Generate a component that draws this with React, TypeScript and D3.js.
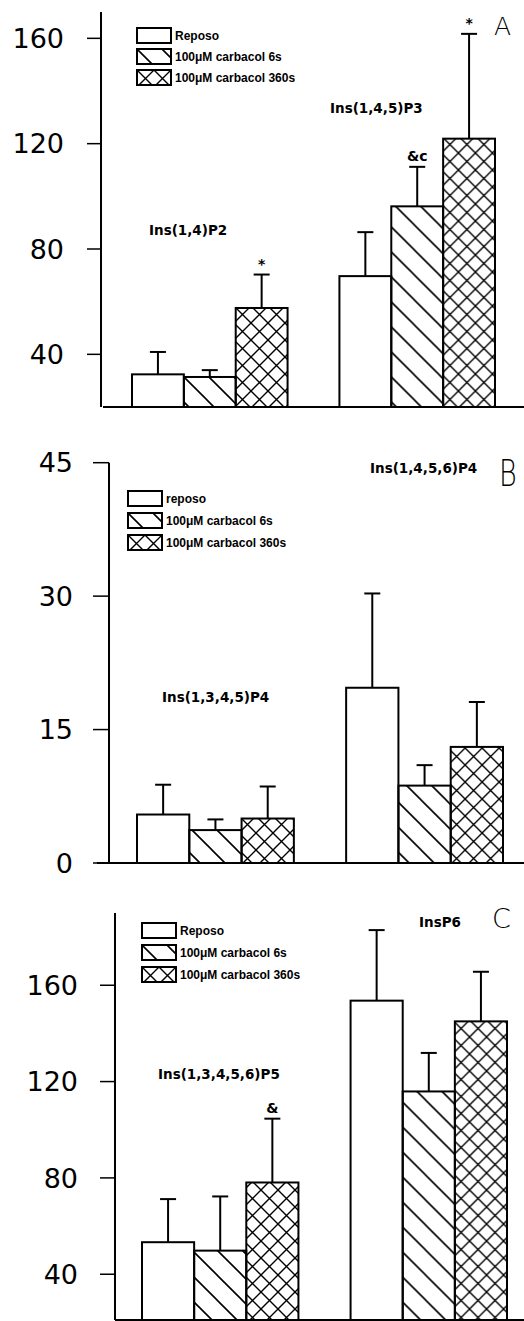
import React from 'react';
import * as d3 from 'd3';

// ---------- DATA ----------
const SERIES_A = ['Reposo', '100μM carbacol 6s', '100μM carbacol 360s'];
const SERIES_B = ['reposo', '100μM carbacol 6s', '100μM carbacol 360s'];
const SERIES_C = ['Reposo', '100μM carbacol 6s', '100μM carbacol 360s'];

const GROUPS_A = ['Ins(1,4)P2', 'Ins(1,4,5)P3'];
const VALUES_A = [[32.4, 31.4, 57.6], [69.7, 96.2, 121.9]];
const ERRORS_A = [[8.5, 2.6, 12.7], [16.7, 15.0, 39.8]];
const MARKS_A = [['', '', '*'], ['', '&c', '*']];
const TICKS_A = [40, 80, 120, 160];

const GROUPS_B = ['Ins(1,3,4,5)P4', 'Ins(1,4,5,6)P4'];
const VALUES_B = [[5.45, 3.7, 5.0], [19.7, 8.7, 13.05]];
const ERRORS_B = [[3.35, 1.2, 3.6], [10.6, 2.3, 5.05]];
const MARKS_B = [['', '', ''], ['', '', '']];
const TICKS_B = [0, 15, 30, 45];

const GROUPS_C = ['Ins(1,3,4,5,6)P5', 'InsP6'];
const VALUES_C = [[53.3, 49.8, 78.1], [153.6, 115.9, 145.0]];
const ERRORS_C = [[17.9, 22.5, 26.5], [29.3, 16.0, 20.6]];
const MARKS_C = [['', '', '&'], ['', '', '']];
const TICKS_C = [40, 80, 120, 160];

const FILLS = ['#fff', 'url(#hatch)', 'url(#cross)'];

// ---------- LAYOUT ----------
const PANELS = [
  {
    letter: 'A', series: SERIES_A, groups: GROUPS_A, values: VALUES_A, errors: ERRORS_A, marks: MARKS_A, ticks: TICKS_A,
    yDomain: [20, 170], yRange: [407, 12], axisX: 101, axisTop: 12, baseY: 407, baseX0: 103,
    xRange: [132, 495], tickLen: 14, labelRight: 64,
    legend: { x: 137, y: 28, dy: 21 },
    groupLabels: [{ x: 149, y: 235 }, { x: 330, y: 113 }],
    letterPos: { x: 494, y: 35, size: 25, sy: 1 },
  },
  {
    letter: 'B', series: SERIES_B, groups: GROUPS_B, values: VALUES_B, errors: ERRORS_B, marks: MARKS_B, ticks: TICKS_B,
    yDomain: [0, 45], yRange: [863, 462.7], axisX: 109, axisTop: 462.7, baseY: 863, baseX0: 97,
    xRange: [137, 503], tickLen: 16, labelRight: 73,
    legend: { x: 128, y: 491, dy: 22 },
    groupLabels: [{ x: 162, y: 702 }, { x: 370, y: 473 }],
    letterPos: { x: 499, y: 486, size: 27, sy: 1.38 },
  },
  {
    letter: 'C', series: SERIES_C, groups: GROUPS_C, values: VALUES_C, errors: ERRORS_C, marks: MARKS_C, ticks: TICKS_C,
    yDomain: [20, 190], yRange: [1322.4, 913], axisX: 115, axisTop: 913, baseY: 1320, baseX0: 115,
    xRange: [142, 507], tickLen: 15, labelRight: 78,
    legend: { x: 142, y: 923, dy: 22 },
    groupLabels: [{ x: 158, y: 1079 }, { x: 419, y: 927 }],
    letterPos: { x: 492, y: 928, size: 27, sy: 1 },
  },
];

const TICK_FONT = '"DejaVu Sans", sans-serif';
const LEGEND_FONT = '"Liberation Sans", Arial, sans-serif';
const LABEL_FONT = '"DejaVu Sans", sans-serif';

function Panel({ p }: { p: any }) {
  const y = d3.scaleLinear().domain(p.yDomain).range(p.yRange);
  const xg = d3.scaleBand<string>().domain(p.groups).range(p.xRange).paddingInner(0.25).paddingOuter(0);
  const xs = d3.scaleBand<number>().domain([0, 1, 2]).range([0, xg.bandwidth()]).padding(0);
  const capW = 16;
  return (
    <g>
      {/* bars */}
      {p.groups.map((g: string, gi: number) => (
        <g key={g} transform={`translate(${xg(g)},0)`}>
          {p.values[gi].map((v: number, si: number) => {
            const x0 = xs(si)!;
            const w = xs.bandwidth();
            const top = y(v);
            const bottom = Math.min(y(p.yDomain[0]), 1330);
            const errTop = y(v + p.errors[gi][si]);
            const cx = x0 + w / 2;
            return (
              <g key={si}>
                <line x1={cx} x2={cx} y1={top} y2={errTop} stroke="#000" strokeWidth={2} />
                <line x1={cx - capW / 2} x2={cx + capW / 2} y1={errTop} y2={errTop} stroke="#000" strokeWidth={2} />
                <rect x={x0} y={top} width={w} height={bottom - top} fill={FILLS[si]} stroke="#000" strokeWidth={2} />
                {p.marks[gi][si] ? (
                  <text x={cx} y={errTop - 6} textAnchor="middle" fontFamily={LABEL_FONT} fontWeight="bold" fontSize={14}>
                    {p.marks[gi][si]}
                  </text>
                ) : null}
              </g>
            );
          })}
        </g>
      ))}
      {/* axes */}
      <line x1={p.axisX} x2={p.axisX} y1={p.axisTop} y2={p.baseY} stroke="#000" strokeWidth={2} />
      <line x1={p.baseX0} x2={524} y1={p.baseY} y2={p.baseY} stroke="#000" strokeWidth={2} />
      {p.ticks.map((t: number) => (
        <g key={t}>
          <line x1={p.axisX - p.tickLen} x2={p.axisX} y1={y(t)} y2={y(t)} stroke="#000" strokeWidth={1.5} />
          <text x={p.labelRight} y={y(t)} dy="0.36em" textAnchor="end" fontFamily={TICK_FONT} fontSize={27} fill="#000">
            {t}
          </text>
        </g>
      ))}
      {/* legend */}
      {p.series.map((s: string, si: number) => (
        <g key={s} transform={`translate(${p.legend.x},${p.legend.y + si * p.legend.dy})`}>
          <rect x={0} y={0} width={34} height={15} fill={FILLS[si]} stroke="#000" strokeWidth={2} />
          <text x={38} y={12} fontFamily={LEGEND_FONT} fontWeight="bold" fontSize={12} fill="#000">
            {s}
          </text>
        </g>
      ))}
      {/* group labels */}
      {p.groups.map((g: string, gi: number) => (
        <text key={g} x={p.groupLabels[gi].x} y={p.groupLabels[gi].y} fontFamily={LABEL_FONT} fontWeight="bold" fontSize={13.5} fill="#000">
          {g}
        </text>
      ))}
      {/* panel letter */}
      <text
        transform={`translate(${p.letterPos.x},${p.letterPos.y}) scale(1,${p.letterPos.sy})`}
        fontFamily={TICK_FONT}
        fontSize={p.letterPos.size}
        fontWeight={200}
        fill="#000"
      >
        {p.letter}
      </text>
    </g>
  );
}

export default function App() {
  return (
    <svg width={524} height={1321} style={{ position: 'absolute', left: 0, top: 0, background: '#fff' }}>
      <defs>
        <pattern id="hatch" patternUnits="userSpaceOnUse" width={25} height={25}>
          <path d="M0,0 L25,25 M-2,23 L2,27 M23,-2 L27,2" stroke="#000" strokeWidth={1.6} />
        </pattern>
        <pattern id="cross" patternUnits="userSpaceOnUse" width={17} height={17}>
          <path d="M0,0 L17,17 M17,0 L0,17" stroke="#000" strokeWidth={1.4} />
        </pattern>
      </defs>
      <rect width={524} height={1321} fill="#fff" />
      {PANELS.map((p) => (
        <Panel key={p.letter} p={p} />
      ))}
    </svg>
  );
}
